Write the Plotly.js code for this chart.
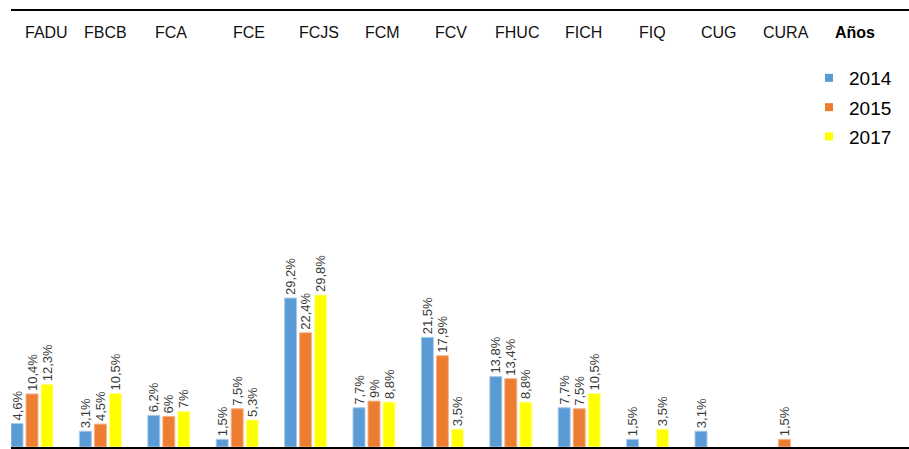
<!DOCTYPE html>
<html>
<head>
<meta charset="utf-8">
<script src="https://cdn.plot.ly/plotly-3.0.1.min.js"></script>
<style>html,body{margin:0;padding:0;background:#fff;}#chart{width:909px;height:449px;}</style>
</head>
<body>
<div id="chart"></div>
<script>
// ---- data ----
const categories = ['FADU','FBCB','FCA','FCE','FCJS','FCM','FCV','FHUC','FICH','FIQ','CUG','CURA'];
const years = ['2014','2015','2017'];
const values2014 = [4.6, 3.1, 6.2, 1.5, 29.2, 7.7, 21.5, 13.8, 7.7, 1.5, 3.1, null];
const values2015 = [10.4, 4.5, 6, 7.5, 22.4, 9, 17.9, 13.4, 7.5, null, null, 1.5];
const values2017 = [12.3, 10.5, 7, 5.3, 29.8, 8.8, 3.5, 8.8, 10.5, 3.5, null, null];
const headerTitle = 'Años';

// ---- layout helpers ----
const W = 909, H = 449;
const ML = 11, MR = 0, MT = 11, MB = 2;
const PW = W - ML - MR, PH = H - MT - MB;
const CAT = 68.4;                    // pixel pitch of one category
const X0 = 32;                       // pixel centre of first category
const px = x => (x - ML) / PW;
const py = y => (H - MB - y) / PH;

const colors = ['#5B9BD5', '#ED7D31', '#FFFF00'];
const edge = ['#A9CBEA', '#F6B48A', '#FFFF99'];
const series = [values2014, values2015, values2017];
const fmt = v => v == null ? '' : String(v).replace('.', ',') + '%';

const traces = series.map((vals, i) => ({
  type: 'bar', x: categories, y: vals, name: years[i], showlegend: false,
  marker: {color: colors[i], line: {color: edge[i], width: 1}},
  text: vals.map(fmt), textposition: 'outside', textangle: -90,
  constraintext: 'none', cliponaxis: false,
  textfont: {family: 'Liberation Sans, Arial, sans-serif', size: 13, color: '#3a3a3a'},
  hoverinfo: 'skip'
}));
// legend entries (small square symbols)
years.forEach((yr, i) => traces.push({
  type: 'scatter', mode: 'markers', x: [null], y: [null], name: yr,
  legendgroup: 'g' + i, showlegend: true,
  marker: {symbol: 'square', size: 8, color: colors[i]}
}));

const headerLeft = [23, 82, 153, 231, 297, 363, 433, 493, 563, 637, 699, 761];
const annotations = categories.map((c, i) => ({
  text: c, xref: 'paper', yref: 'paper', x: px(headerLeft[i]), y: py(32.5),
  xanchor: 'left', yanchor: 'middle', showarrow: false,
  font: {family: 'Liberation Sans, Arial, sans-serif', size: 16, color: '#111'}
}));
annotations.push({
  text: '<b>' + headerTitle + '</b>', xref: 'paper', yref: 'paper', x: px(833), y: py(32.5),
  xanchor: 'left', yanchor: 'middle', showarrow: false,
  font: {family: 'Liberation Sans, Arial, sans-serif', size: 16, color: '#000'}
});

const r0 = -(X0 - ML) / CAT;
const layout = {
  width: W, height: H,
  margin: {l: ML, r: MR, t: MT, b: MB, pad: 0},
  paper_bgcolor: '#fff', plot_bgcolor: '#fff',
  barmode: 'group', bargap: 0.342, bargroupgap: 0.2,
  showlegend: true,
  legend: {
    x: px(849 - 40), y: py(59), xanchor: 'left', yanchor: 'top',
    font: {family: 'Liberation Sans, Arial, sans-serif', size: 19, color: '#000'},
    tracegroupgap: 1.6, bgcolor: 'rgba(0,0,0,0)', borderwidth: 0
  },
  xaxis: {
    type: 'category', range: [r0, r0 + PW / CAT], showticklabels: false, ticks: '',
    showline: true, mirror: true, linecolor: '#000', linewidth: 2,
    showgrid: false, zeroline: false, fixedrange: true
  },
  yaxis: {
    range: [0, PH / 5.1], showticklabels: false, ticks: '', showgrid: false,
    zeroline: false, showline: false, fixedrange: true
  },
  annotations: annotations
};

Plotly.newPlot('chart', traces, layout, {displayModeBar: false, staticPlot: true});
</script>
</body>
</html>
